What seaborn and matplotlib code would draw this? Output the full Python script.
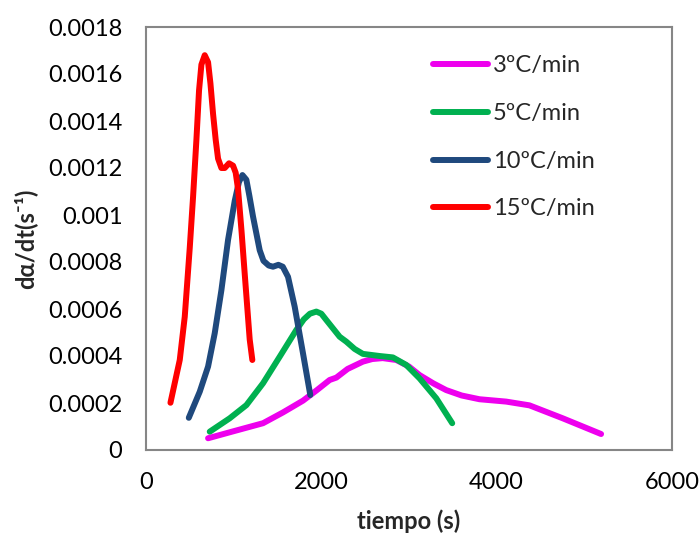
import numpy as np
import pandas as pd
import matplotlib
matplotlib.use("Agg")
import matplotlib.pyplot as plt
import seaborn as sns
from matplotlib.ticker import FixedLocator, FuncFormatter

# ---- data ----
labels = ["3ºC/min", "5ºC/min", "10ºC/min", "15ºC/min"]
colors = ["#EE00EE", "#00B050", "#1F497D", "#FF0000"]

t3 = [708, 1000, 1335, 1563, 1791, 1950, 2095, 2171, 2300, 2474, 2580, 2700, 2855, 3000, 3120, 3280, 3424, 3600, 3804, 4108, 4374, 4753, 5191]
r3 = [0.000050, 0.000080, 0.000114, 0.000160, 0.000210, 0.000255, 0.000298, 0.000308, 0.000345, 0.000376, 0.000387, 0.000391, 0.000383, 0.000355, 0.000319, 0.000283, 0.000255, 0.000232, 0.000216, 0.000206, 0.000190, 0.000135, 0.000068]

t5 = [727, 955, 1145, 1335, 1525, 1715, 1800, 1870, 1943, 2000, 2057, 2209, 2285, 2380, 2474, 2664, 2816, 2968, 3120, 3311, 3493]
r5 = [0.000078, 0.000135, 0.000191, 0.000284, 0.000397, 0.000511, 0.000556, 0.000580, 0.000589, 0.000580, 0.000553, 0.000482, 0.000461, 0.000430, 0.000409, 0.000400, 0.000394, 0.000362, 0.000305, 0.000220, 0.000114]

t10 = [488, 613, 708, 784, 860, 936, 1012, 1060, 1100, 1145, 1180, 1221, 1297, 1340, 1400, 1449, 1510, 1560, 1620, 1696, 1791, 1874]
r10 = [0.000137, 0.000248, 0.000355, 0.000497, 0.000680, 0.000894, 0.001060, 0.001140, 0.001170, 0.001150, 0.001080, 0.000993, 0.000850, 0.000805, 0.000785, 0.000780, 0.000788, 0.000780, 0.000737, 0.000610, 0.000411, 0.000234]

t15 = [279, 385, 442, 499, 537, 575, 605, 632, 670, 708, 735, 765, 795, 822, 860, 898, 947, 993, 1023, 1050, 1090, 1126, 1183, 1213]
r15 = [0.000201, 0.000383, 0.000567, 0.000860, 0.001078, 0.001320, 0.001530, 0.001640, 0.001680, 0.001650, 0.001560, 0.001430, 0.001320, 0.001240, 0.001200, 0.001200, 0.001220, 0.001210, 0.001180, 0.001110, 0.000930, 0.000750, 0.000470, 0.000383]

x_ticks = [0, 2000, 4000, 6000]
y_ticks = [0, 0.0002, 0.0004, 0.0006, 0.0008, 0.001, 0.0012, 0.0014, 0.0016, 0.0018]

frames = []
for lab, t, r in zip(labels, [t3, t5, t10, t15], [r3, r5, r10, r15]):
    frames.append(pd.DataFrame({"tiempo": t, "rate": r, "serie": lab}))
df = pd.concat(frames, ignore_index=True)

sns.set_style("white")
plt.rcParams["font.family"] = ["Lato", "DejaVu Sans"]

FS = 17
LW = 4.3

fig = plt.figure(figsize=(7.0, 5.38), dpi=100)
ax = fig.add_axes([146 / 700, (538 - 450) / 538, 526 / 700, 423 / 538])

sns.lineplot(data=df, x="tiempo", y="rate", hue="serie", hue_order=labels,
             palette=dict(zip(labels, colors)), sort=False, estimator=None,
             linewidth=LW, ax=ax, legend=True)
for line in ax.get_lines():
    line.set_solid_capstyle("round")
    line.set_solid_joinstyle("round")

ax.set_xlim(0, 6000)
ax.set_ylim(0, 0.0018)
ax.xaxis.set_major_locator(FixedLocator(x_ticks))
ax.yaxis.set_major_locator(FixedLocator(y_ticks))
ax.xaxis.set_major_formatter(FuncFormatter(lambda v, p: f"{int(v)}"))
ax.yaxis.set_major_formatter(FuncFormatter(lambda v, p: "0" if v == 0 else f"{v:.4f}".rstrip("0").rstrip(".")))
ax.tick_params(axis="both", direction="in", length=5, width=1.2, color="#868686",
               labelsize=FS, labelcolor="black")
ax.tick_params(axis="x", pad=16)
ax.tick_params(axis="y", pad=17)
for s in ax.spines.values():
    s.set_visible(True)
    s.set_color("#868686")
    s.set_linewidth(1.5)

ax.set_xlabel("tiempo (s)", fontsize=FS, fontweight="bold", labelpad=12)
ax.set_ylabel("dα/dt(s⁻¹)", fontsize=FS, fontweight="bold", labelpad=8)

handles, labs = ax.get_legend_handles_labels()
leg = ax.legend(handles, labs, loc="upper left", bbox_to_anchor=(0.505, 0.983),
                frameon=False, fontsize=FS, handlelength=2.33, handletextpad=0.2,
                labelspacing=1.13)
for h in leg.get_lines():
    h.set_linewidth(LW)
    h.set_solid_capstyle("round")

fig.savefig("out.png", dpi=100)
